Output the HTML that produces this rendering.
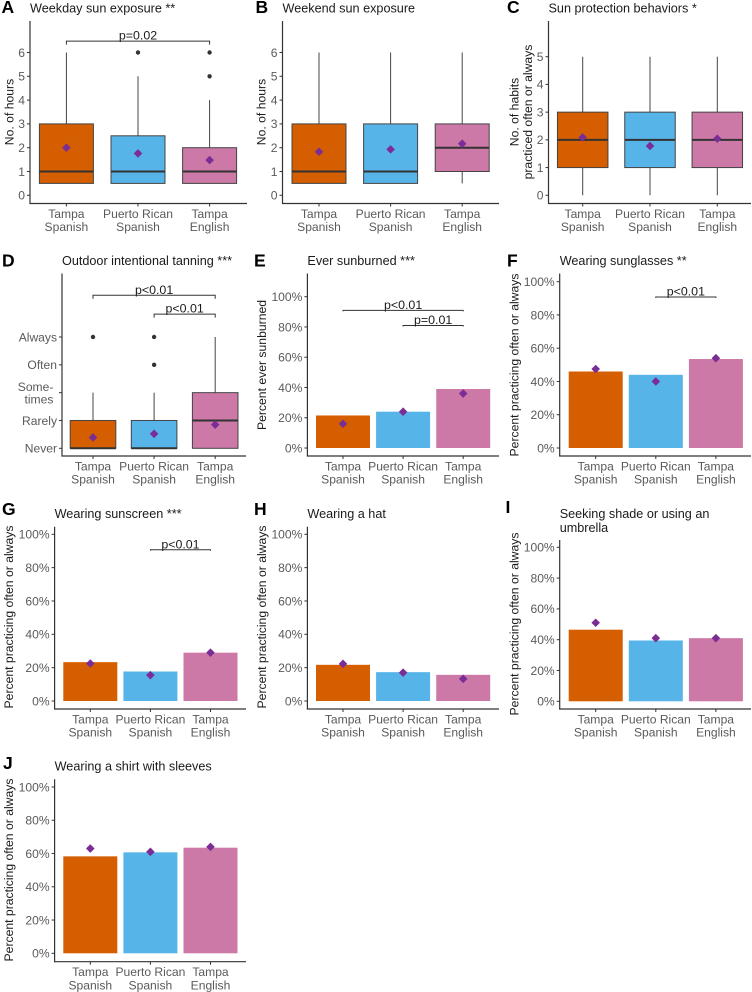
<!DOCTYPE html>
<html lang="en">
<head>
<meta charset="utf-8">
<title>Sun exposure and protection behaviours by group</title>
<style>
html,body{margin:0;padding:0;background:#fff;}
svg{display:block;font-family:"Liberation Sans",Arial,sans-serif;}
</style>
</head>
<body>
<svg id="figure" xmlns="http://www.w3.org/2000/svg" width="752" height="992" viewBox="0 0 752 992"></svg>
<script>
// ---------- shared labels ----------
const categories = [["Tampa", "Spanish"], ["Puerto Rican", "Spanish"], ["Tampa", "English"]];
const hourTicks = [0, 1, 2, 3, 4, 5, 6];
const habitTicks = [0, 1, 2, 3, 4, 5];
const tanTicks = [1, 2, 3, 4, 5];
const tanTickLabels = [["Never"], ["Rarely"], ["Some-", "times"], ["Often"], ["Always"]];
const percentTicks = [0, 20, 40, 60, 80, 100];
const fillColors = ["#D55E00", "#56B4E9", "#CC79A7"];

// ---------- A: weekday sun exposure ----------
const weekdayLow = [0.5, 0.5, 0.5];
const weekdayQ1 = [0.5, 0.5, 0.5];
const weekdayMedian = [1, 1, 1];
const weekdayQ3 = [3, 2.5, 2];
const weekdayHigh = [6, 5, 4];
const weekdayMean = [2, 1.76, 1.48];
const weekdayOutliers = [[], [6], [5, 6]];

// ---------- B: weekend sun exposure ----------
const weekendLow = [0.5, 0.5, 0.5];
const weekendQ1 = [0.5, 0.5, 1];
const weekendMedian = [1, 1, 2];
const weekendQ3 = [3, 3, 3];
const weekendHigh = [6, 6, 6];
const weekendMean = [1.83, 1.93, 2.17];
const weekendOutliers = [[], [], []];

// ---------- C: sun protection behaviours ----------
const habitsLow = [0, 0, 0];
const habitsQ1 = [1, 1, 1];
const habitsMedian = [2, 2, 2];
const habitsQ3 = [3, 3, 3];
const habitsHigh = [5, 5, 5];
const habitsMean = [2.09, 1.78, 2.04];
const habitsOutliers = [[], [], []];

// ---------- D: outdoor intentional tanning ----------
const tanLow = [1, 1, 1];
const tanQ1 = [1, 1, 1];
const tanMedian = [1, 1, 2];
const tanQ3 = [2, 2, 3];
const tanHigh = [3, 3, 5];
const tanMean = [1.39, 1.52, 1.85];
const tanOutliers = [[5], [4, 5], []];

// ---------- E-J: percentage panels ----------
const sunburnedPct = [21.5, 24, 39];
const sunburnedMean = [16, 24, 36];
const sunglassesPct = [46, 44, 53.5];
const sunglassesMean = [47.5, 40, 54];
const sunscreenPct = [23.3, 17.7, 29];
const sunscreenMean = [22.5, 15.5, 29];
const hatPct = [21.7, 17.3, 15.7];
const hatMean = [22.3, 17, 13.3];
const shadePct = [46.5, 39.5, 41];
const shadeMean = [51, 41, 41];
const sleevesPct = [58.3, 60.7, 63.5];
const sleevesMean = [63, 61, 64];

const svg = document.getElementById('figure');
const NS = 'http://www.w3.org/2000/svg';

function mk(parent, tag, attrs, name) {
  const el = document.createElementNS(NS, tag);
  for (const k in attrs) el.setAttribute(k, attrs[k]);
  
  
  parent.appendChild(el);
  return el;
}
function txt(parent, x, y, s, size, fill, anchor, name, extra) {
  const el = mk(parent, 'text', Object.assign({x: x, y: y, 'font-size': size, fill: fill, 'text-anchor': anchor}, extra || {}), name);
  el.textContent = s;
  return el;
}
function line(parent, x1, y1, x2, y2, stroke, w, name) {
  return mk(parent, 'line', {x1: x1, y1: y1, x2: x2, y2: y2, stroke: stroke, 'stroke-width': w}, name);
}
function diamond(parent, cx, cy, name) {
  const r = 4.3;
  return mk(parent, 'polygon', {points: (cx - r) + ',' + cy + ' ' + cx + ',' + (cy - r) + ' ' + (cx + r) + ',' + cy + ' ' + cx + ',' + (cy + r), fill: '#7B2D96'}, name);
}

function frame(p) {
  const g = mk(svg, 'g', {}, 'panel-' + p.id);
  const scaleY = v => p.y0 - (v - p.d0) * (p.y0 - p.y1) / (p.d1 - p.d0);
  const scaleX = i => p.c0 + i * p.step;

  txt(g, p.labelX, p.labelY, p.label, 17.5, '#000', 'start', 'panel-label-' + p.id, {'font-weight': 'bold'});
  p.title.forEach((t, i) => txt(g, p.axisX, p.titleY + i * 14, t, 12.65, '#1a1a1a', 'start', 'panel-title-' + p.id));

  p.yTitle.forEach((t, i) => {
    const bx = p.yTitleX + i * 13.6;
    txt(g, bx, p.yTitleY, t, 12.2, '#1a1a1a', 'middle', 'y-axis-title-' + p.id, {transform: 'rotate(-90 ' + bx + ' ' + p.yTitleY + ')'});
  });

  p.ticks.forEach((t, i) => {
    const y = scaleY(t);
    line(g, p.axisX - 3, y, p.axisX, y, '#333', 1, 'y-tick-' + p.id);
    const lab = p.tickLabels ? p.tickLabels[i] : [p.suffix ? t + p.suffix : String(t)];
    if (lab.length === 1) {
      txt(g, p.axisX - 5, y + 4.3, lab[0], 12.1, '#5a5a5a', 'end', 'y-tick-label-' + p.id);
    } else {
      txt(g, p.axisX - 8.6, y - 1.6, lab[0], 12.1, '#5a5a5a', 'end', 'y-tick-label-' + p.id);
      txt(g, p.axisX - 8.6, y + 11, lab[1], 12.1, '#5a5a5a', 'end', 'y-tick-label-' + p.id);
    }
  });

  categories.forEach((c, i) => {
    const x = scaleX(i);
    line(g, x, p.bottom, x, p.bottom + 3, '#333', 1, 'x-tick-' + p.id);
    txt(g, x, p.bottom + 14.3, c[0], 12.1, '#5a5a5a', 'middle', 'x-tick-label-' + p.id);
    txt(g, x, p.bottom + 27.6, c[1], 12.1, '#5a5a5a', 'middle', 'x-tick-label-' + p.id);
  });
  return {g: g, scaleX: scaleX, scaleY: scaleY};
}

function axes(f, p) {
  line(f.g, p.axisX, p.top, p.axisX, p.bottom + 0.5, '#333', 1.2, 'y-axis-line-' + p.id);
  line(f.g, p.axisX - 0.5, p.bottom, p.right, p.bottom, '#333', 1.2, 'x-axis-line-' + p.id);
}

function brackets(f, p, list, drop) {
  list.forEach(b => {
    const y = f.scaleY(b.at);
    const a = f.scaleX(b.from), z = f.scaleX(b.to);
    mk(f.g, 'path', {d: 'M' + a + ' ' + (y + drop) + 'V' + y + 'H' + z + 'V' + (y + drop), fill: 'none', stroke: '#333', 'stroke-width': 1}, 'significance-bracket-' + p.id);
    txt(f.g, (a + z) / 2, y - 1.5, b.text, 12.4, '#1a1a1a', 'middle', 'p-value-label-' + p.id);
  });
}

function boxPanel(p, low, q1, med, q3, high, mean, outliers, br) {
  const f = frame(p);
  const w = p.width;
  categories.forEach((c, i) => {
    const x = f.scaleX(i);
    line(f.g, x, f.scaleY(q3[i]), x, f.scaleY(high[i]), '#444', 1, 'whisker-upper-' + p.id);
    line(f.g, x, f.scaleY(q1[i]), x, f.scaleY(low[i]), '#444', 1, 'whisker-lower-' + p.id);
    mk(f.g, 'rect', {x: x - w / 2, y: f.scaleY(q3[i]), width: w, height: f.scaleY(q1[i]) - f.scaleY(q3[i]), fill: fillColors[i], stroke: '#444', 'stroke-width': 1}, 'box-' + p.id);
    line(f.g, x - w / 2, f.scaleY(med[i]), x + w / 2, f.scaleY(med[i]), '#333', 2, 'median-' + p.id);
    outliers[i].forEach(o => mk(f.g, 'circle', {cx: x, cy: f.scaleY(o), r: 2.2, fill: '#333'}, 'outlier-' + p.id));
    diamond(f.g, x, f.scaleY(mean[i]), 'mean-marker-' + p.id);
  });
  brackets(f, p, br, 3.5);
  axes(f, p);
}

function barPanel(p, vals, mean, br) {
  const f = frame(p);
  const w = p.width;
  categories.forEach((c, i) => {
    const x = f.scaleX(i);
    const top = f.scaleY(vals[i]);
    mk(f.g, 'rect', {x: x - w / 2, y: top, width: w, height: f.scaleY(0) - top, fill: fillColors[i]}, 'bar-' + p.id);
    diamond(f.g, x, f.scaleY(mean[i]), 'mean-marker-' + p.id);
  });
  brackets(f, p, br, 1);
  axes(f, p);
}

boxPanel({id: 'a', label: 'A', labelX: 1.5, labelY: 13, title: ['Weekday sun exposure **'], titleY: 12.5,
  axisX: 30, right: 247, top: 21, bottom: 203.5, c0: 66.4, step: 71.6, width: 54,
  y0: 195.3, y1: 52.5, d0: 0, d1: 6, ticks: hourTicks, yTitle: ['No. of hours'], yTitleX: 13.3, yTitleY: 112},
  weekdayLow, weekdayQ1, weekdayMedian, weekdayQ3, weekdayHigh, weekdayMean, weekdayOutliers,
  [{from: 0, to: 2, at: 6.48, text: 'p=0.02'}]);

boxPanel({id: 'b', label: 'B', labelX: 255.5, labelY: 13, title: ['Weekend sun exposure'], titleY: 12.5,
  axisX: 282.5, right: 499, top: 21, bottom: 203.5, c0: 319, step: 71.6, width: 54,
  y0: 195.3, y1: 52.5, d0: 0, d1: 6, ticks: hourTicks, yTitle: ['No. of hours'], yTitleX: 265.7, yTitleY: 112},
  weekendLow, weekendQ1, weekendMedian, weekendQ3, weekendHigh, weekendMean, weekendOutliers, []);

boxPanel({id: 'c', label: 'C', labelX: 507, labelY: 13, title: ['Sun protection behaviors *'], titleY: 12.5,
  axisX: 548.5, right: 751, top: 21, bottom: 203.5, c0: 582.7, step: 67.3, width: 50.5,
  y0: 195.3, y1: 56.7, d0: 0, d1: 5, ticks: habitTicks, yTitle: ['No. of habits', 'practiced often or always'], yTitleX: 518.4, yTitleY: 112},
  habitsLow, habitsQ1, habitsMedian, habitsQ3, habitsHigh, habitsMean, habitsOutliers, []);

boxPanel({id: 'd', label: 'D', labelX: 2, labelY: 266.5, title: ['Outdoor intentional tanning ***'], titleY: 265,
  axisX: 62, right: 246, top: 273.5, bottom: 456, c0: 93, step: 61.1, width: 45.6,
  y0: 448.3, y1: 337, d0: 1, d1: 5, ticks: tanTicks, tickLabels: tanTickLabels, yTitle: [], yTitleX: 0, yTitleY: 0},
  tanLow, tanQ1, tanMedian, tanQ3, tanHigh, tanMean, tanOutliers,
  [{from: 0, to: 2, at: 6.5, text: 'p<0.01'}, {from: 1, to: 2, at: 5.82, text: 'p<0.01'}]);

barPanel({id: 'e', label: 'E', labelX: 254, labelY: 266.5, title: ['Ever sunburned ***'], titleY: 265,
  axisX: 307.4, right: 499, top: 273.5, bottom: 456, c0: 343, step: 60.1, width: 54,
  y0: 448, y1: 296.7, d0: 0, d1: 100, ticks: percentTicks, suffix: '%', yTitle: ['Percent ever sunburned'], yTitleX: 266, yTitleY: 365},
  sunburnedPct, sunburnedMean,
  [{from: 0, to: 2, at: 91, text: 'p<0.01'}, {from: 1, to: 2, at: 81, text: 'p=0.01'}]);

barPanel({id: 'f', label: 'F', labelX: 507, labelY: 266.5, title: ['Wearing sunglasses **'], titleY: 265,
  axisX: 559.7, right: 751, top: 273.5, bottom: 456, c0: 595.7, step: 60.1, width: 54,
  y0: 448, y1: 281.7, d0: 0, d1: 100, ticks: percentTicks, suffix: '%', yTitle: ['Percent practicing often or always'], yTitleX: 518.3, yTitleY: 365},
  sunglassesPct, sunglassesMean,
  [{from: 1, to: 2, at: 90.8, text: 'p<0.01'}]);

barPanel({id: 'g', label: 'G', labelX: 2, labelY: 515, title: ['Wearing sunscreen ***'], titleY: 518,
  axisX: 54.6, right: 246, top: 526.7, bottom: 709, c0: 90.3, step: 60.1, width: 54,
  y0: 701, y1: 534.3, d0: 0, d1: 100, ticks: percentTicks, suffix: '%', yTitle: ['Percent practicing often or always'], yTitleX: 13, yTitleY: 617},
  sunscreenPct, sunscreenMean,
  [{from: 1, to: 2, at: 90.7, text: 'p<0.01'}]);

barPanel({id: 'h', label: 'H', labelX: 254, labelY: 515, title: ['Wearing a hat'], titleY: 518,
  axisX: 307.4, right: 499, top: 526.7, bottom: 709, c0: 343, step: 60.1, width: 54,
  y0: 701, y1: 534.3, d0: 0, d1: 100, ticks: percentTicks, suffix: '%', yTitle: ['Percent practicing often or always'], yTitleX: 266, yTitleY: 617},
  hatPct, hatMean, []);

barPanel({id: 'i', label: 'I', labelX: 505.5, labelY: 513, title: ['Seeking shade or using an', 'umbrella'], titleY: 518,
  axisX: 559.7, right: 751, top: 540, bottom: 709, c0: 595.7, step: 60.1, width: 54,
  y0: 701.3, y1: 547.3, d0: 0, d1: 100, ticks: percentTicks, suffix: '%', yTitle: ['Percent practicing often or always'], yTitleX: 518.3, yTitleY: 624},
  shadePct, shadeMean, []);

barPanel({id: 'j', label: 'J', labelX: 3, labelY: 769, title: ['Wearing a shirt with sleeves'], titleY: 770.5,
  axisX: 54.6, right: 246, top: 779.3, bottom: 961.7, c0: 90.3, step: 60.1, width: 54,
  y0: 953.3, y1: 787, d0: 0, d1: 100, ticks: percentTicks, suffix: '%', yTitle: ['Percent practicing often or always'], yTitleX: 13, yTitleY: 870},
  sleevesPct, sleevesMean, []);
</script>
</body>
</html>
